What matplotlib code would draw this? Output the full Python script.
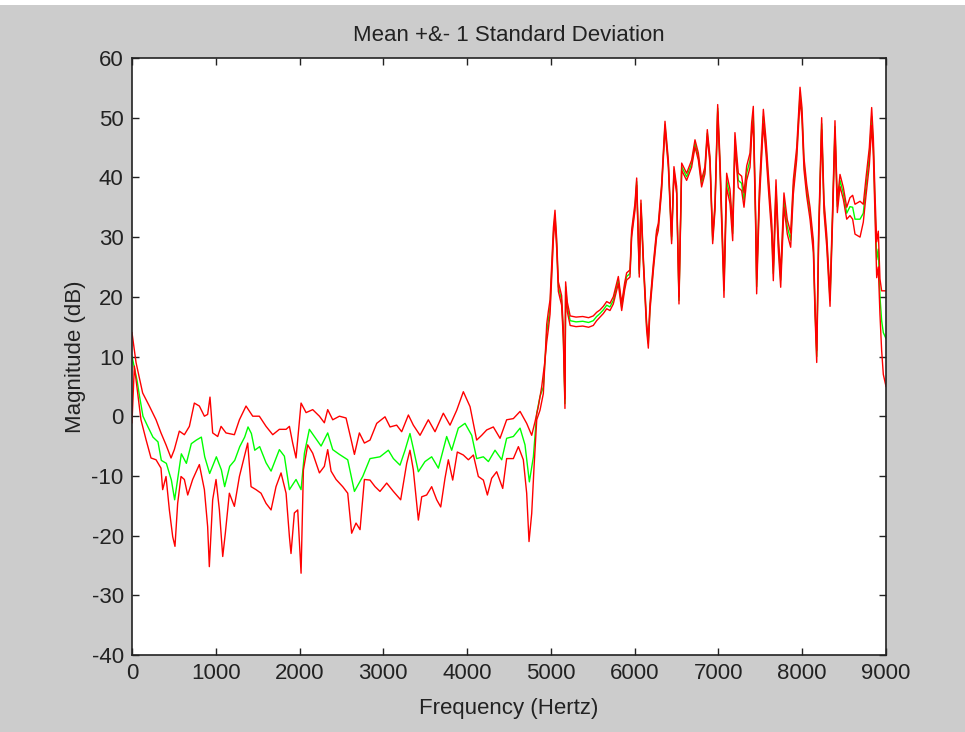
import numpy as np
import matplotlib
matplotlib.use('Agg')
import matplotlib.pyplot as plt
from matplotlib.patches import Rectangle

# ---- low band (0 - ~4.9 kHz): three separate traces ----
mean_f = [0, 60, 88, 131, 191, 250, 310, 350, 410, 470, 509, 549, 589, 649, 708, 768, 828, 868, 927, 1007,
          1067, 1106, 1166, 1226, 1286, 1345, 1385, 1425, 1465, 1524, 1600, 1660, 1759, 1819, 1879, 1958, 2018, 2058, 2117, 2177,
          2257, 2336, 2396, 2476, 2575, 2655, 2754, 2841, 2960, 3060, 3120, 3199, 3259, 3318, 3358, 3418, 3497, 3577, 3657, 3756,
          3816, 3895, 3975, 4055, 4114, 4194, 4254, 4333, 4413, 4472, 4552, 4632, 4691, 4743, 4791, 4831, 4870, 4910]
mean_v = [10, 6, 3.5, 0, -1.8, -3.5, -4.3, -7.4, -7.9, -10.7, -14, -10.2, -6.3, -7.9, -4.6, -4, -3.5, -6.8, -9.6, -6.8,
          -9, -11.8, -8.4, -7.4, -5.1, -3.5, -1.8, -2.9, -5.7, -5.1, -7.8, -9.2, -5.6, -6.7, -12.3, -10.6, -12.3, -6.2, -2.2, -3.4,
          -5, -2.8, -5.6, -6.4, -7.3, -12.6, -10.1, -7.1, -6.8, -5.7, -7.1, -8.2, -5.7, -2.9, -5.4, -9.3, -7.6, -6.8, -8.7, -3.4,
          -5.7, -2.0, -1.2, -3.2, -7.1, -6.8, -7.6, -5.7, -7.3, -3.7, -3.4, -2.0, -4.8, -11, -6.8, 0.5, 3.3, 4.9]

up_f = [0, 48, 127, 207, 287, 346, 406, 466, 505, 565, 625, 685, 744, 804, 864, 903, 931, 963, 1023, 1063,
        1122, 1222, 1282, 1361, 1441, 1520, 1600, 1680, 1759, 1839, 1879, 1918, 1958, 2018, 2078, 2157, 2237, 2296, 2336, 2396,
        2476, 2555, 2615, 2655, 2714, 2774, 2841, 2921, 3020, 3080, 3159, 3219, 3299, 3358, 3438, 3537, 3617, 3716, 3796, 3876,
        3955, 4035, 4114, 4174, 4234, 4313, 4393, 4472, 4552, 4632, 4711, 4771, 4811, 4850, 4890, 4930]
up_v = [14, 9, 3.9, 1.7, -0.6, -2.8, -4.8, -7, -5.6, -2.5, -3.1, -1.7, 2.2, 1.7, 0, 0.3, 3.2, -2.8, -3.4, -1.7,
        -2.8, -3.1, -0.6, 1.7, 0, 0, -1.7, -3.1, -2.2, -2.2, -1.7, -4.5, -7, 2.2, 0.6, 1.1, 0, -1.1, 1.1, -0.6,
        0, -0.3, -3.9, -6.4, -2.8, -4.5, -4, -1.2, -0.1, -1.8, -1.5, -2.6, 0.2, -1.5, -3.2, -0.6, -2.6, 0.5, -1.5, 1.0,
        4.1, 1.6, -4, -3.2, -2.3, -1.8, -3.7, -0.6, -0.4, 0.8, -1.2, -3.2, -0.9, 1.6, 4.9, 9.4]

lo_f = [0, 28, 68, 107, 167, 227, 287, 346, 366, 406, 446, 486, 513, 545, 585, 625, 665, 724, 804, 864,
        903, 923, 963, 1003, 1043, 1083, 1114, 1162, 1222, 1282, 1381, 1421, 1480, 1540, 1600, 1660, 1719, 1779, 1839, 1879,
        1898, 1938, 1978, 2018, 2046, 2097, 2157, 2237, 2296, 2336, 2376, 2436, 2515, 2575, 2622, 2674, 2722, 2774, 2841, 2901,
        2960, 3040, 3120, 3207, 3279, 3318, 3358, 3418, 3458, 3517, 3577, 3637, 3685, 3736, 3776, 3828, 3883, 3955, 4015, 4075,
        4134, 4194, 4242, 4293, 4353, 4425, 4472, 4552, 4612, 4671, 4711, 4739, 4771, 4799, 4831, 4870, 4910, 4930]
lo_v = [-1.1, 8.4, 3.9, -0.6, -3.9, -7, -7.3, -8.7, -12.3, -10.1, -15.7, -20.2, -21.8, -14.6, -10.1, -10.6, -13.2, -10.6, -8.1, -12.3,
        -18.5, -25.2, -14, -10.6, -15.7, -23.5, -19.6, -12.9, -15.1, -10.1, -4.5, -11.8, -12.3, -12.9, -14.6, -15.7, -11.8, -9.5, -12.9, -20.2,
        -23, -16.2, -15.7, -26.3, -9, -4.8, -6.2, -9.5, -8.4, -5.6, -9.2, -10.6, -11.8, -12.9, -19.6, -17.9, -19, -10.6, -10.7, -11.8,
        -12.6, -11.2, -12.6, -14.0, -7.9, -5.7, -9, -17.4, -13.5, -13.2, -11.8, -14, -15.2, -10.4, -7.3, -10.7, -6, -6.5, -7.3, -6.5,
        -10.1, -10.7, -13.2, -10.4, -9.3, -12.1, -7.1, -7.1, -5.1, -7.3, -12.9, -21, -16.3, -8.5, -0.6, 1.0, 3.8, 9.4]

# ---- high band (~4.9 - 9 kHz): mean and std (bands mostly overlap) ----
hi_f = [4950, 4970, 4990, 5010, 5030, 5049, 5069, 5089, 5128, 5148,
        5168, 5176, 5196, 5230, 5300, 5380, 5450, 5506, 5546, 5586,
        5626, 5666, 5705, 5745, 5805, 5845, 5880, 5904, 5944, 5964,
        6004, 6024, 6043, 6055, 6075, 6103, 6123, 6143, 6163, 6183,
        6223, 6262, 6282, 6322, 6362, 6402, 6441, 6469, 6501, 6529,
        6561, 6620, 6680, 6720, 6760, 6799, 6839, 6867, 6899, 6931,
        6959, 6991, 7018, 7066, 7098, 7138, 7170, 7197, 7237, 7277,
        7305, 7337, 7377, 7396, 7416, 7444, 7456, 7488, 7536, 7568,
        7595, 7635, 7655, 7687, 7715, 7743, 7782, 7822, 7862, 7894,
        7934, 7974, 7997, 8021, 8053, 8093, 8133, 8153, 8173, 8196,
        8232, 8260, 8292, 8332, 8363, 8391, 8419, 8451, 8491, 8531,
        8570, 8602, 8630, 8690, 8729, 8761, 8801, 8829, 8849, 8869,
        8889, 8908, 8928, 8948, 8968, 9000]
hi_mean = [13.9, 16.1, 18.3, 24.5, 30.6, 33.7, 28.9, 21.7, 19.4, 13.9,
           2.1, 21.7, 18.3, 16.0, 15.8, 15.9, 15.7, 16.0, 16.7, 17.2,
           17.8, 18.6, 18.3, 19.4, 22.8, 18.3, 21.7, 23.4, 23.9, 30.6,
           35.1, 39.3, 30.1, 23.9, 35.6, 26.2, 20.6, 15.0, 12.2, 18.3,
           25.0, 30.6, 31.7, 38.4, 48.8, 42.3, 29.5, 41.2, 37.9, 19.4,
           41.8, 40.1, 42.3, 45.7, 43.5, 39.0, 41.2, 47.4, 42.9, 29.5,
           35.1, 51.6, 42.3, 21.1, 39.5, 36.8, 30.6, 46.3, 39.5, 39.0,
           36.2, 40.7, 42.9, 47.9, 50.7, 32.8, 21.7, 36.8, 50.2, 45.1,
           39.5, 31.7, 23.9, 38.4, 28.9, 22.8, 36.2, 31.7, 29.5, 38.4,
           44.0, 54.1, 50.7, 42.3, 37.9, 34.0, 28.4, 17.8, 10.0, 30.1,
           49.0, 35.1, 29.5, 19.4, 34.0, 48.5, 35.1, 39.5, 37.3, 34.0,
           35.1, 35.0, 33.0, 33.0, 34.0, 38.4, 43.5, 50.2, 45.1, 35.1,
           26.2, 28.0, 20.0, 16.0, 14.0, 13.0]
hi_sd = [1.5, 1.5, 1.2, 1.0, 1.0, 0.8, 0.8, 0.8, 0.8, 0.8,
         0.8, 0.8, 0.8, 0.8, 0.8, 0.8, 0.8, 0.8, 0.7, 0.6,
         0.6, 0.6, 0.6, 0.6, 0.6, 0.6, 0.6, 0.6, 0.6, 0.6,
         0.6, 0.6, 0.6, 0.6, 0.6, 0.6, 0.6, 0.6, 0.8, 0.6,
         0.6, 0.6, 0.6, 0.6, 0.6, 0.6, 0.6, 0.6, 0.6, 0.6,
         0.6, 0.6, 0.6, 0.6, 0.6, 0.6, 0.6, 0.6, 0.6, 0.6,
         0.6, 0.6, 1.0, 1.2, 1.2, 1.2, 1.2, 1.2, 1.2, 1.2,
         1.2, 1.2, 1.2, 1.2, 1.2, 1.2, 1.2, 1.2, 1.2, 1.2,
         1.2, 1.2, 1.2, 1.2, 1.2, 1.2, 1.2, 1.2, 1.2, 1.2,
         1.0, 1.0, 1.0, 1.0, 1.0, 1.0, 1.0, 1.0, 1.0, 1.0,
         1.0, 1.0, 1.0, 1.0, 1.0, 1.0, 1.0, 1.0, 1.0, 1.0,
         1.5, 2.0, 2.5, 3.0, 1.5, 1.5, 1.5, 1.5, 1.5, 2.0,
         3.0, 3.0, 3.0, 5.0, 7.0, 8.0]

hi_f = np.array(hi_f)
hi_mean = np.array(hi_mean)
hi_sd = np.array(hi_sd)

f_mean = np.concatenate([mean_f, hi_f])
y_mean = np.concatenate([mean_v, hi_mean])
f_up = np.concatenate([up_f, hi_f])
y_up = np.concatenate([up_v, hi_mean + hi_sd])
f_lo = np.concatenate([lo_f, hi_f])
y_lo = np.concatenate([lo_v, hi_mean - hi_sd])

plt.rcParams['font.family'] = ['Liberation Sans', 'DejaVu Sans']
plt.rcParams['axes.unicode_minus'] = False

fig = plt.figure(figsize=(9.65, 7.32), dpi=100, facecolor='#cccccc')
fig.patches.append(Rectangle((0, 1 - 5/732), 1, 5/732, transform=fig.transFigure,
                             facecolor='white', edgecolor='none', zorder=-1))
ax = fig.add_axes([132/965, 1 - 655/732, (886 - 132)/965, (655 - 58)/732])

ax.plot(f_mean, y_mean, color='#00ff00', lw=1.0)
ax.plot(f_up, y_up, color='#ff0000', lw=1.0)
ax.plot(f_lo, y_lo, color='#ff0000', lw=1.0)

ax.set_xlim(0, 9000)
ax.set_ylim(-40, 60)
ax.set_xticks(np.arange(0, 9001, 1000))
ax.set_yticks(np.arange(-40, 61, 10))
ax.tick_params(direction='in', length=5, width=1, top=True, right=True,
               labelsize=16, colors='#222222', pad=6)
for s in ax.spines.values():
    s.set_color('#222222')
    s.set_linewidth(1.2)

ax.set_title('Mean +&- 1 Standard Deviation', fontsize=16, pad=12, color='#222222')
ax.set_xlabel('Frequency (Hertz)', fontsize=16, labelpad=10, color='#222222')
ax.set_ylabel('Magnitude (dB)', fontsize=16, labelpad=4, color='#222222')

fig.savefig('out.png', dpi=100, facecolor=fig.get_facecolor())
